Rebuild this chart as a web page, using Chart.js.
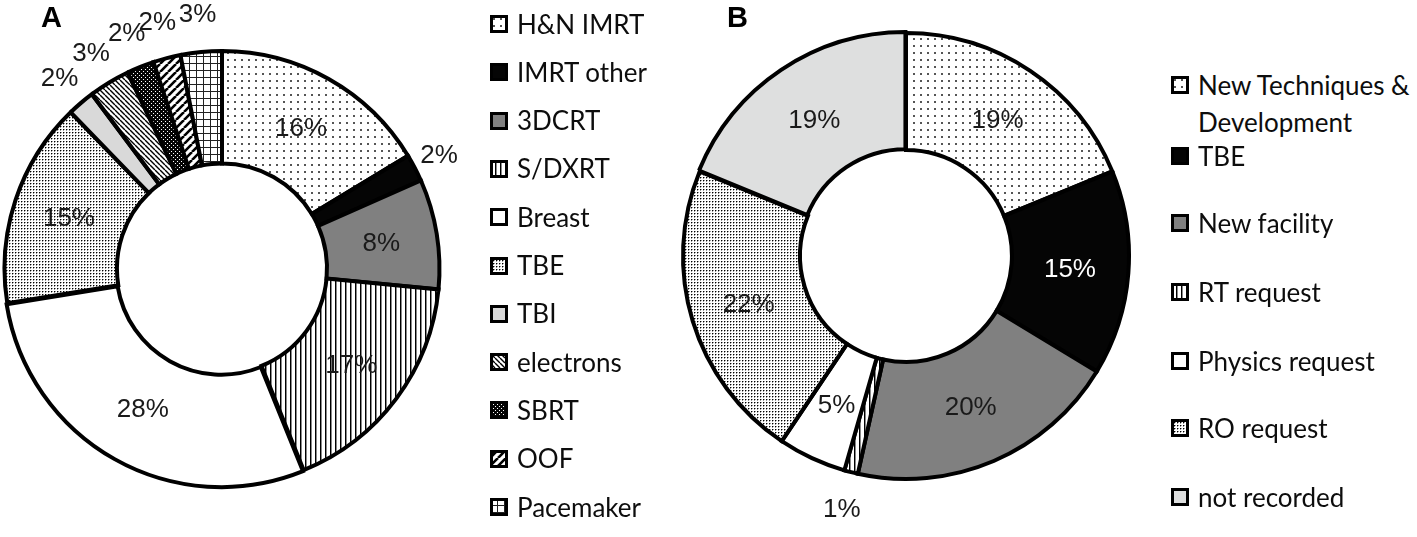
<!DOCTYPE html>
<html><head><meta charset="utf-8">
<script src="https://cdn.jsdelivr.net/npm/chart.js@4"></script>
<style>
html,body{margin:0;padding:0;background:#fff;}
#root{position:relative;width:1417px;height:537px;overflow:hidden;background:#fff;}
.wrap{position:absolute;top:0;height:537px;}
.panel{position:absolute;font-family:"Liberation Sans",Arial,sans-serif;font-weight:bold;font-size:29px;line-height:29px;color:#000;z-index:2;}
.leg{position:absolute;top:0;font-family:Lato,"Open Sans",sans-serif;font-size:26px;color:#0d0d0d;z-index:2;}
.row{position:absolute;left:0;display:flex;align-items:flex-start;white-space:nowrap;line-height:37px;}
.row canvas{margin-right:9px;margin-top:9.5px;flex:none;}
</style></head>
<body><div id="root">
<div class="wrap" id="wrapA" style="left:0;width:480px;"><canvas id="chartA"></canvas></div>
<div class="wrap" id="wrapB" style="left:679px;width:454px;"><canvas id="chartB"></canvas></div>
<div class="panel" style="left:41px;top:3px;">A</div>
<div class="panel" style="left:727px;top:3px;">B</div>
<div class="leg" id="legA" style="left:490px;"></div>
<div class="leg" id="legB" style="left:1171px;"></div>
</div>
<script>
// ---- data ----
const categoriesA = ['H&N IMRT','IMRT other','3DCRT','S/DXRT','Breast','TBE','TBI','electrons','SBRT','OOF','Pacemaker'];
const valuesA = [16, 2, 8, 17, 28, 15, 2, 3, 2, 2, 3];
const categoriesB = [['New Techniques &','Development'],'TBE','New facility','RT request','Physics request','RO request','not recorded'];
const valuesB = [19, 15, 20, 1, 5, 22, 19];

// ---- styles ----
const fillKeysA = ['dotsSparse','black','gray','vlines','white','dotsDense','lightgray','diagDown','blackDots','diagUp','grid'];
const fillKeysB = ['dotsSparse','black','gray','vlines','white','dotsDense','lightgray2'];
const offsetsA = [0,0,0,0,5,0,0,0,0,0,0];
const offsetsB = [0,0,0,0,0,0,4];

function tile(w,h,draw){const c=document.createElement('canvas');c.width=w;c.height=h;const g=c.getContext('2d');draw(g,w,h);return c;}
const helper = document.createElement('canvas').getContext('2d');
function makeFill(key){
  switch(key){
    case 'black': return '#050505';
    case 'gray': return '#808080';
    case 'white': return '#ffffff';
    case 'lightgray': return '#d9d9d9';
    case 'lightgray2': return '#dedfdf';
  }
  let t;
  if(key==='dotsSparse') t=tile(7,7,(g)=>{g.fillStyle='#fff';g.fillRect(0,0,7,7);g.fillStyle='#555';g.fillRect(3,3,2,2);});
  if(key==='dotsDense') t=tile(3,3,(g)=>{g.fillStyle='#fff';g.fillRect(0,0,3,3);g.fillStyle='#000';g.fillRect(0,0,1,1);g.fillStyle='#999';g.fillRect(1,0,1,1);g.fillRect(0,1,1,1);});
  if(key==='vlines') t=tile(5,5,(g)=>{g.fillStyle='#fff';g.fillRect(0,0,5,5);g.fillStyle='#000';g.fillRect(0,0,1,5);g.fillStyle='#888';g.fillRect(1,0,1,5);});
  if(key==='diagDown') t=tile(5,5,(g)=>{g.fillStyle='#fff';g.fillRect(0,0,5,5);g.strokeStyle='#000';g.lineWidth=1.4;g.beginPath();for(const k of [-5,0,5]){g.moveTo(k,0);g.lineTo(k+5,5);}g.stroke();});
  if(key==='diagUp') t=tile(8,8,(g)=>{g.fillStyle='#fff';g.fillRect(0,0,8,8);g.strokeStyle='#000';g.lineWidth=2.6;g.beginPath();for(const k of [-8,0,8]){g.moveTo(k,8);g.lineTo(k+8,0);}g.stroke();});
  if(key==='grid') t=tile(7,7,(g)=>{g.fillStyle='#fff';g.fillRect(0,0,7,7);g.fillStyle='#222';g.fillRect(0,0,7,1);g.fillRect(0,0,1,7);});
  if(key==='blackDots') t=tile(4,4,(g)=>{g.fillStyle='#050505';g.fillRect(0,0,4,4);g.fillStyle='#fff';g.fillRect(1,1,1,1);g.fillRect(3,3,1,1);});
  return helper.createPattern(t,'repeat');
}
const fillsA = fillKeysA.map(makeFill);
const fillsB = fillKeysB.map(makeFill);

const sliceLabels = {
  id:'sliceLabels',
  afterDatasetsDraw(chart){
    const ctx=chart.ctx, meta=chart.getDatasetMeta(0), ds=chart.data.datasets[0];
    const keys = chart.options.plugins.sliceLabels.keys;
    ctx.save();
    ctx.font='26px "Liberation Sans", Arial, sans-serif';
    ctx.textAlign='center'; ctx.textBaseline='middle';
    meta.data.forEach((arc,i)=>{
      const p=arc.getProps(['x','y','startAngle','endAngle','innerRadius','outerRadius'],true);
      const mid=(p.startAngle+p.endAngle)/2;
      const v=ds.data[i];
      let r, color='#1a1a1a';
      if(v<4){
        r = p.outerRadius + 18 + Math.abs(Math.sin(mid))*20;
      } else {
        r = (p.innerRadius+p.outerRadius)/2;
        if(keys[i]==='black') color='#ffffff';
      }
      ctx.fillStyle=color;
      ctx.fillText(v+'%', p.x+Math.cos(mid)*r, p.y+Math.sin(mid)*r+1);
    });
    ctx.restore();
  }
};

function makeChart(id, labels, values, fills, offsets, keys, cutout, bw, pad){
  return new Chart(document.getElementById(id), {
    type:'doughnut',
    data:{labels:labels, datasets:[{data:values, backgroundColor:fills, borderColor:'#000', borderWidth:bw, borderJoinStyle:'miter', offset:offsets, hoverOffset:0}]},
    options:{
      responsive:true, maintainAspectRatio:false, animation:false, events:[],
      cutout:cutout,
      layout:{padding:pad},
      plugins:{legend:{display:false}, tooltip:{enabled:false}, sliceLabels:{keys:keys}}
    },
    plugins:[sliceLabels]
  });
}
makeChart('chartA', categoriesA, valuesA, fillsA, offsetsA, fillKeysA, '48.3%', 4, {top:0,left:0,right:36,bottom:0});
makeChart('chartB', categoriesB, valuesB, fillsB, offsetsB, fillKeysB, '47.5%', 4, {top:0,left:0,right:0,bottom:25});

// ---- legends ----
function swatch(fill){
  const c=document.createElement('canvas');c.width=18;c.height=18;
  const g=c.getContext('2d');g.fillStyle=fill;g.fillRect(0,0,18,18);
  g.strokeStyle='#000';g.lineWidth=3;g.strokeRect(1.5,1.5,15,15);
  return c;
}
function buildLegend(id, labels, fills, centers){
  const host=document.getElementById(id);
  labels.forEach((lab,i)=>{
    const row=document.createElement('div');row.className='row';
    row.style.top=(centers[i]-18.5)+'px';
    row.appendChild(swatch(fills[i]));
    const span=document.createElement('span');
    if(Array.isArray(lab)){lab.forEach((l,j)=>{if(j)span.appendChild(document.createElement('br'));span.appendChild(document.createTextNode(l));});}
    else span.textContent=lab;
    row.appendChild(span);host.appendChild(row);
  });
}
buildLegend('legA', categoriesA, fillsA, categoriesA.map((_,i)=>24+48.3*i));
buildLegend('legB', categoriesB, fillsB, [85,156,223,292,361,428,497]);
</script>
</body></html>
